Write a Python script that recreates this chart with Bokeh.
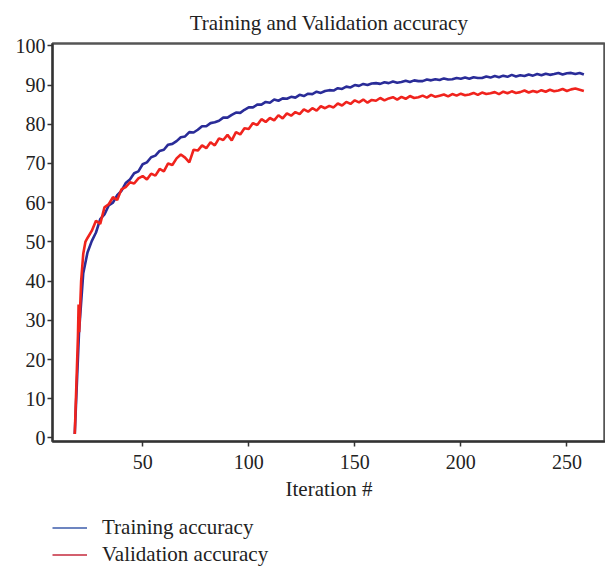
from bokeh.plotting import figure
from bokeh.models import Range1d, FixedTicker, Legend, LegendItem
from bokeh.layouts import column
from bokeh.embed import file_html
from bokeh.resources import INLINE

train_iter = list(range(18, 259, 2))
train_acc = [
    1.0, 27.0, 42.0, 47.3, 50.2, 52.4, 55.8, 57.0, 59.3, 60.0,
    61.9, 63.0, 65.0, 65.9, 67.5, 68.0, 69.8, 70.3, 71.6, 72.0,
    73.2, 73.5, 74.8, 75.0, 75.7, 76.7, 76.9, 78.0, 77.9, 78.6,
    79.5, 79.5, 80.3, 80.5, 80.9, 81.7, 81.7, 82.4, 83.0, 82.9,
    83.7, 84.3, 84.3, 85.0, 85.0, 85.7, 85.5, 86.3, 86.0, 86.6,
    86.5, 87.0, 86.8, 87.5, 87.2, 87.8, 87.7, 88.3, 88.0, 88.5,
    88.7, 88.6, 89.2, 89.0, 89.6, 89.4, 90.0, 89.8, 90.3, 90.0,
    90.4, 90.5, 90.3, 90.7, 90.5, 90.9, 90.6, 90.8, 91.1, 90.8,
    91.2, 91.0, 91.0, 91.4, 91.2, 91.5, 91.3, 91.7, 91.4, 91.5,
    91.8, 91.6, 91.9, 91.6, 92.0, 91.8, 91.8, 92.2, 91.9, 92.3,
    92.0, 92.4, 92.1, 92.6, 92.2, 92.5, 92.3, 92.7, 92.4, 92.8,
    92.5, 92.9, 92.6, 92.8, 93.1, 92.7, 93.0, 93.1, 92.8, 93.1,
    92.7,
]

val_iter = [18, 19.5, 19.8, 20.1, 21, 22, 23] + list(range(24, 259, 2))
val_acc = [
    1.0, 26.0, 34.0, 27.0, 40.0, 47.0, 50.0,
    51.0, 52.8, 55.4, 54.6, 58.8, 59.6, 61.4, 60.7, 63.4, 64.0,
    65.2, 64.9, 66.2, 66.8, 65.9, 67.4, 66.9, 68.6, 68.0, 70.0,
    69.6, 71.3, 72.3, 71.5, 70.3, 73.5, 73.3, 74.6, 73.9, 75.4,
    74.6, 76.4, 76.0, 77.3, 75.9, 78.0, 77.4, 79.0, 78.8, 80.3,
    79.8, 81.3, 80.6, 81.6, 81.0, 82.3, 81.5, 82.8, 82.2, 83.1,
    82.6, 83.8, 83.2, 84.1, 83.5, 84.6, 84.1, 84.7, 84.3, 85.3,
    84.8, 85.7, 85.2, 86.1, 85.6, 86.3, 85.5, 86.2, 86.0, 86.7,
    86.1, 86.6, 86.9, 86.3, 87.0, 86.5, 87.2, 86.7, 86.9, 87.3,
    86.8, 87.5, 87.0, 87.3, 87.6, 87.1, 87.7, 87.3, 87.8, 87.4,
    87.6, 88.0, 87.5, 88.1, 87.7, 87.9, 88.2, 87.7, 88.3, 87.9,
    88.4, 88.0, 88.2, 88.6, 88.1, 88.5, 88.2, 88.7, 88.3, 88.8,
    88.4, 88.6, 89.0, 88.5, 88.9, 89.1, 88.8, 88.5,
]

x_ticks = [50, 100, 150, 200, 250]
y_ticks = [0, 10, 20, 30, 40, 50, 60, 70, 80, 90, 100]
title_text = "Training and Validation accuracy"
x_label = "Iteration #"
legend_labels = ["Training accuracy", "Validation accuracy"]

FONT = "Liberation Serif"
TXT = "#222222"

p = figure(width=605, height=504, output_backend="svg", toolbar_location=None,
           x_range=Range1d(7.5, 268.2), y_range=Range1d(-0.9, 100.6),
           min_border_left=52, min_border_right=0, min_border_top=41,
           min_border_bottom=63)
p.background_fill_color = "white"
p.border_fill_color = "white"
p.outline_line_color = "#555555"
p.outline_line_width = 2.5
p.xgrid.visible = False
p.ygrid.visible = False

p.title.text = title_text
p.title.align = "center"
p.title.text_font = FONT
p.title.text_font_size = "21px"
p.title.text_font_style = "normal"
p.title.text_color = TXT
p.title.standoff = 17

for ax in (p.xaxis[0], p.yaxis[0]):
    ax.axis_line_color = "#333333"
    ax.axis_line_width = 2
    ax.major_tick_line_color = "#333333"
    ax.major_tick_line_width = 1.5
    ax.major_tick_out = 5
    ax.major_tick_in = 0
    ax.minor_tick_line_color = None
    ax.major_label_text_font = FONT
    ax.major_label_text_font_size = "20px"
    ax.major_label_text_color = TXT

p.xaxis[0].ticker = FixedTicker(ticks=x_ticks)
p.yaxis[0].ticker = FixedTicker(ticks=y_ticks)
p.xaxis[0].major_label_standoff = 8
p.yaxis[0].major_label_standoff = 2
p.xaxis[0].axis_label = x_label
p.xaxis[0].axis_label_text_font = FONT
p.xaxis[0].axis_label_text_font_size = "21px"
p.xaxis[0].axis_label_text_font_style = "normal"
p.xaxis[0].axis_label_text_color = TXT
p.xaxis[0].axis_label_standoff = 5

p.line(train_iter, train_acc, line_color="#2a2c98", line_width=2.6)
p.line(val_iter, val_acc, line_color="#f0231d", line_width=2.6)

# legend strip below the chart (its ranges keep the series out of view)
p2 = figure(width=605, height=62, output_backend="svg", toolbar_location=None,
            x_range=Range1d(0, 1), y_range=Range1d(0, 1),
            x_axis_type=None, y_axis_type=None,
            min_border_left=0, min_border_right=0, min_border_top=0,
            min_border_bottom=0)
p2.outline_line_color = None
p2.xgrid.visible = False
p2.ygrid.visible = False
p2.background_fill_color = "white"
p2.border_fill_color = "white"

lt = p2.line(train_iter, train_acc, line_color="#3d5cab", line_width=1.4)
lv = p2.line(val_iter, val_acc, line_color="#c42a3c", line_width=1.4)

legend = Legend(items=[LegendItem(label=legend_labels[0], renderers=[lt]),
                       LegendItem(label=legend_labels[1], renderers=[lv])],
                location=(0, -1), orientation="vertical")
legend.border_line_color = None
legend.background_fill_alpha = 0
legend.label_text_font = FONT
legend.label_text_font_size = "21px"
legend.label_text_color = TXT
legend.glyph_width = 35
legend.glyph_height = 23
legend.label_height = 23
legend.label_standoff = 15
legend.spacing = 2
legend.padding = 0
legend.margin = 0
p2.add_layout(legend, "center")

layout = column(p, p2, spacing=0)
open("out.html", "w").write(file_html(layout, INLINE))
